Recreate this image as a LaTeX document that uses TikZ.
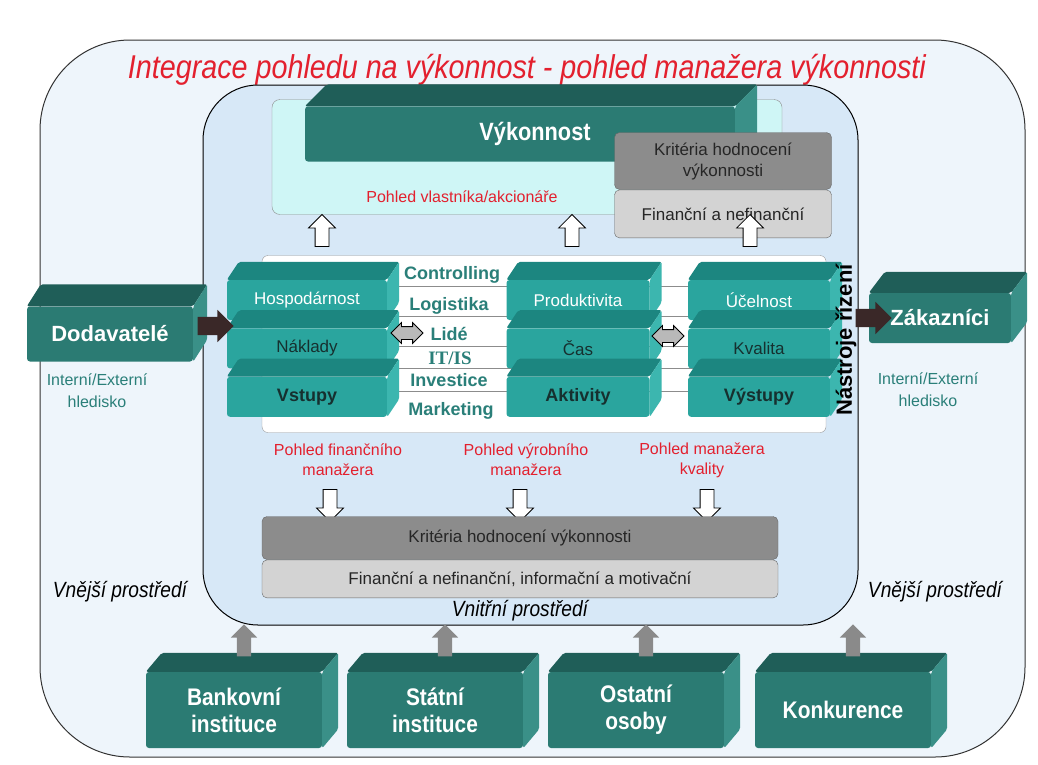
\documentclass[tikz,border=0pt]{standalone}
\usepackage{fontspec}
\setmainfont{Liberation Sans}
\newfontfamily\narrowsans[FakeStretch=0.87]{Liberation Sans}
\newfontfamily\serifsans{Liberation Serif}
\usepackage{tikz}
\usetikzlibrary{positioning,calc,shapes.arrows}

\definecolor{tealdark}{HTML}{2B7B73}
\definecolor{tealdarktop}{HTML}{1F5E58}
\definecolor{tealdarkside}{HTML}{3A9088}
\definecolor{teallight}{HTML}{2AA59E}
\definecolor{teallighttop}{HTML}{1C8680}
\definecolor{teallightside}{HTML}{3CB6AF}
\definecolor{textdark}{HTML}{16302F}
\definecolor{outerbg}{HTML}{EEF5FB}
\definecolor{innerbg}{HTML}{D7E8F7}
\definecolor{cyanbg}{HTML}{CFF6F6}
\definecolor{titlered}{HTML}{E3202E}
\definecolor{rowteal}{HTML}{2A7F79}
\definecolor{critdark}{HTML}{8C8C8C}
\definecolor{critlight}{HTML}{D3D3D3}
\definecolor{arrowdark}{HTML}{3A2828}
\definecolor{arrowgray}{HTML}{8A8A8A}

% top and side faces of a box, #2/#3 = depth, #4 = dark or light
\newcommand{\cubefaces}[4]{%
  \fill[#4top] (#1.north west) -- ++(#2,-#3) -- ($(#1.north east)+(#2,-#3)$) -- (#1.north east) -- cycle;
  \fill[#4side] (#1.north east) -- ++(#2,-#3) -- ($(#1.south east)+(#2,-#3)$) -- (#1.south east) -- cycle;
}

\begin{document}
\begin{tikzpicture}[x=1pt,y=-1pt,
  darkcube/.style={fill=tealdark,text=white,rounded corners=3pt,inner sep=0pt,align=center,
    font=\bfseries\fontsize{22}{25}\selectfont},
  darktop/.style={fill=tealdarktop,rounded corners=2pt},
  darkside/.style={fill=tealdarkside,rounded corners=2pt},
  colcube/.style={fill=teallight,text=textdark,rounded corners=3pt,inner sep=0pt,
    minimum height=40pt,font=\fontsize{17}{20}\selectfont},
  lighttop/.style={fill=teallighttop,rounded corners=2pt},
  lightside/.style={fill=teallightside,rounded corners=2pt},
  rowtext/.style={text=rowteal,font=\bfseries\fontsize{18}{20}\selectfont},
  redtext/.style={text=titlered,align=center,font=\fontsize{16}{20}\selectfont},
  tealtext/.style={text=rowteal,align=center,font=\fontsize{16}{22}\selectfont},
  envtext/.style={font=\narrowsans\itshape\fontsize{22}{24}\selectfont},
  crit/.style={draw=black!60,rounded corners=5pt,inner sep=0pt,align=center,text=black!85,
    font=\fontsize{17}{21}\selectfont},
  whitearrow/.style={single arrow,draw=black,fill=white,line width=0.8pt,inner sep=6.5pt,
    minimum height=32pt,single arrow head extend=6.5pt},
  darkarrow/.style={single arrow,fill=arrowdark,inner sep=9pt,minimum height=36pt,
    single arrow head extend=7pt},
  grayarrow/.style={single arrow,fill=arrowgray,inner sep=7pt,minimum height=32pt,
    single arrow head extend=6pt,shape border rotate=90},
  swaparrow/.style={double arrow,draw=black,fill=gray!55,line width=0.8pt,inner sep=6pt,
    minimum height=32pt,double arrow head extend=4pt}]
  \useasboundingbox (0,0) rectangle (1038,764);
  % environments
  \draw[black!80,line width=1pt,fill=outerbg,rounded corners=90pt] (40,40) rectangle (1025,757);
  \node[text=titlered,font=\narrowsans\itshape\fontsize{33}{38}\selectfont] (title) at (527,70)
    {Integrace pohledu na výkonnost - pohled manažera výkonnosti};
  \draw[black,line width=1pt,fill=innerbg,rounded corners=55pt] (203,85) rectangle (858,625);

  % owner view
  \node[draw=black!45,fill=cyanbg,rounded corners=8pt,minimum width=510pt,minimum height=115pt] (owner) at (527,157) {};
  \node[darkcube,minimum width=430pt,minimum height=55pt,
    font=\narrowsans\bfseries\fontsize{25}{28}\selectfont] (vyk) at (520,134) {\hspace*{30pt}Výkonnost};
  \cubefaces{vyk}{22}{22}{dark}
  \node[redtext] (ownerlbl) at (462,197) {Pohled vlastníka/akcionáře};
  \node[crit,fill=critdark,minimum width=217pt,minimum height=57pt] (krit) at (723,161) {Kritéria hodnocení\\výkonnosti};
  \node[crit,fill=critlight,minimum width=217pt,minimum height=48pt,below=0pt of krit] (fin) {Finanční a nefinanční};

  % tools panel
  \node[draw=black!40,fill=white,rounded corners=6pt,minimum width=564pt,minimum height=177pt] (panel) at (544,344) {};
  \foreach \y in {286,316,346,368,391}
    \draw[black!45,line width=0.8pt] (262,\y) -- (826,\y);
  \node[rowtext] (ctrl) at (452,275) {Controlling};
  \node[rowtext] (logi) at (449,306) {Logistika};
  \node[rowtext] (lide) at (449,334) {Lidé};
  \node[rowtext,font=\serifsans\bfseries\fontsize{19}{20}\selectfont] (itis) at (450,358) {IT/IS};
  \node[rowtext] (inv) at (449,380) {Investice};
  \node[rowtext] (mkt) at (451,411) {Marketing};

  % columns
  \node[colcube,minimum width=160pt,text=white] (hosp) at (307,300) {Hospodárnost};
  \cubefaces{hosp}{12}{18}{light}
  \node[colcube,minimum width=160pt,below=8pt of hosp] (nakl) {Náklady};
  \cubefaces{nakl}{12}{18}{light}
  \node[colcube,minimum width=160pt,below=8pt of nakl,font=\bfseries\fontsize{18}{20}\selectfont] (vst) {Vstupy};
  \cubefaces{vst}{12}{18}{light}

  \node[colcube,minimum width=143pt,text=white] (prod) at (578,300) {Produktivita};
  \cubefaces{prod}{12}{18}{light}
  \node[colcube,minimum width=143pt,below=8pt of prod] (cas) {Čas};
  \cubefaces{cas}{12}{18}{light}
  \node[colcube,minimum width=143pt,below=8pt of cas,font=\bfseries\fontsize{18}{20}\selectfont] (akt) {Aktivity};
  \cubefaces{akt}{12}{18}{light}

  \node[colcube,minimum width=142pt,text=white] (ucel) at (759,300) {Účelnost};
  \cubefaces{ucel}{12}{18}{light}
  \node[colcube,minimum width=142pt,below=8pt of ucel] (kval) {Kvalita};
  \cubefaces{kval}{12}{18}{light}
  \node[colcube,minimum width=142pt,below=8pt of kval,font=\bfseries\fontsize{18}{20}\selectfont] (vyst) {Výstupy};
  \cubefaces{vyst}{12}{18}{light}

  \node[swaparrow] (sw1) at (407,333) {};
  \node[swaparrow] (sw2) at (668,336) {};

  \node[whitearrow,shape border rotate=90] (up1) at (322,234) {};
  \node[whitearrow,shape border rotate=90] (up2) at (572,234) {};
  \node[whitearrow,shape border rotate=90] (up3) at (750,234) {};

  \node[rotate=90,font=\bfseries\fontsize{22}{24}\selectfont] (nast) at (846,340) {Nástroje řízení};

  % suppliers and customers
  \node[darkcube,minimum width=166pt,minimum height=55pt] (dod) at (110,334) {Dodavatelé};
  \cubefaces{dod}{14}{22}{dark}
  \node[tealtext] (dodh) at (97,391) {Interní/Externí\\hledisko};
  \node[darkcube,minimum width=142pt,minimum height=50pt] (zak) at (940,318) {Zákazníci};
  \cubefaces{zak}{16}{21}{dark}
  \node[tealtext] (zakh) at (928,390) {Interní/Externí\\hledisko};
  \node[darkarrow] (ar1) at (211,326) {};
  \node[darkarrow] (ar2) at (869,318) {};

  % manager views
  \node[redtext] (pf) at (338,460) {Pohled finančního\\manažera};
  \node[redtext] (pv) at (526,460) {Pohled výrobního\\manažera};
  \node[redtext] (pk) at (702,460) {Pohled manažera\\kvality};
  \node[whitearrow,shape border rotate=270] (dn1) at (330,502) {};
  \node[whitearrow,shape border rotate=270] (dn2) at (520,502) {};
  \node[whitearrow,shape border rotate=270] (dn3) at (707,502) {};
  \node[crit,fill=critdark,minimum width=516pt,minimum height=43pt] (krit2) at (520,538) {Kritéria hodnocení výkonnosti};
  \node[crit,fill=critlight,minimum width=516pt,minimum height=38pt,below=0pt of krit2] (fin2) {Finanční a nefinanční, informační a motivační};

  \node[envtext] (vnitr) at (520,611) {Vnitřní prostředí};
  \node[envtext] (vnej1) at (120,592) {Vnější prostředí};
  \node[envtext] (vnej2) at (935,592) {Vnější prostředí};

  % external institutions
  \node[darkcube,minimum width=176pt,minimum height=76pt,
    font=\narrowsans\bfseries\fontsize{24}{27}\selectfont] (bank) at (234,710) {Bankovní\\instituce};
  \cubefaces{bank}{16}{19}{dark}
  \node[darkcube,minimum width=176pt,minimum height=76pt,
    font=\narrowsans\bfseries\fontsize{24}{27}\selectfont] (stat) at (435,710) {Státní\\instituce};
  \cubefaces{stat}{16}{19}{dark}
  \node[darkcube,minimum width=176pt,minimum height=76pt,
    font=\narrowsans\bfseries\fontsize{24}{27}\selectfont] (ost) at (636,710) {Ostatní\\osoby};
  \cubefaces{ost}{16}{19}{dark}
  \node[darkcube,minimum width=176pt,minimum height=76pt,
    font=\narrowsans\bfseries\fontsize{24}{27}\selectfont] (konk) at (843,710) {Konkurence};
  \cubefaces{konk}{16}{19}{dark}
  \node[grayarrow] (g1) at (244,644) {};
  \node[grayarrow] (g2) at (445,644) {};
  \node[grayarrow] (g3) at (646,644) {};
  \node[grayarrow] (g4) at (853,644) {};
\end{tikzpicture}
\end{document}
